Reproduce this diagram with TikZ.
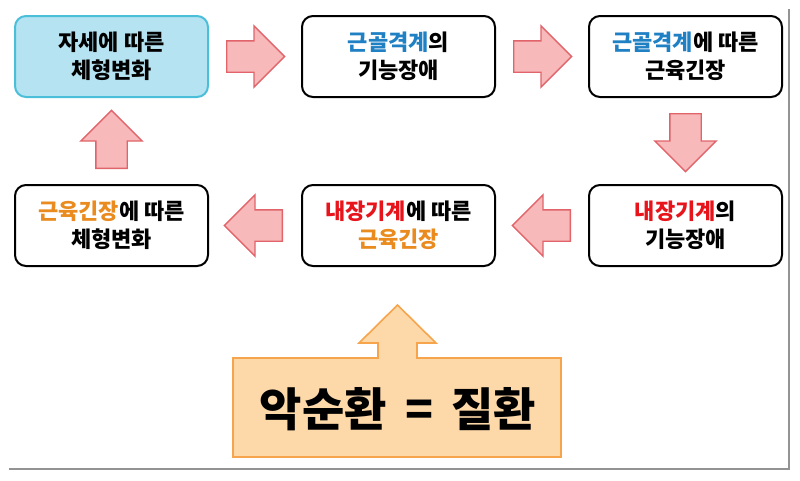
\documentclass[tikz,border=0pt]{standalone}
\usepackage{fontspec}
\setmainfont{Noto Sans CJK KR}
\usetikzlibrary{positioning,shapes.arrows,calc}
\definecolor{skyfill}{HTML}{B5E3F1}
\definecolor{skyline}{HTML}{4BBFDA}
\definecolor{arrowfill}{HTML}{F8B9BA}
\definecolor{arrowline}{HTML}{E0646A}
\definecolor{cyclefill}{HTML}{FDD8A8}
\definecolor{cycleline}{HTML}{F6A54C}
\definecolor{bonecol}{HTML}{1F80C4}
\definecolor{organcol}{HTML}{E8141C}
\definecolor{tensecol}{HTML}{E98B1E}
\newcommand\bonetxt[1]{\textcolor{bonecol}{#1}}
\newcommand\organtxt[1]{\textcolor{organcol}{#1}}
\newcommand\tensetxt[1]{\textcolor{tensecol}{#1}}
\tikzset{
  stage/.style={draw=black,line width=2pt,rounded corners=11pt,fill=white,
    minimum width=193pt,minimum height=81pt,align=center,
    font=\fontsize{22}{28}\selectfont\bfseries},
  flow/.style={single arrow,draw=arrowline,fill=arrowfill,line width=1.4pt,
    minimum width=60pt,minimum height=58pt,single arrow head extend=15pt,
    inner xsep=0pt,inner ysep=15pt,anchor=tail},
  vflow/.style={flow,inner xsep=15pt,inner ysep=0pt}
}
\begin{document}
\begin{tikzpicture}[x=1pt,y=-1pt]
\useasboundingbox (0,0) rectangle (800,480);
\draw[gray!85,line width=2.5pt] (9,469) -- (789,469) -- (789,9);%frame
\node[stage,fill=skyfill,draw=skyline] (b1) at (111.5,56.5) {자세에 따른\\체형변화};
\node[stage,right=92pt of b1] (b2) {\bonetxt{근골격계}의\\기능장애};
\node[stage,right=92pt of b2] (b3) {\bonetxt{근골격계}에 따른\\근육긴장};
\node[stage,below=86pt of b3] (b6) {\organtxt{내장기계}의\\기능장애};
\node[stage,left=92pt of b6] (b5) {\organtxt{내장기계}에 따른\\\tensetxt{근육긴장}};
\node[stage,left=92pt of b5] (b4) {\tensetxt{근육긴장}에 따른\\체형변화};
%arrows
\node[flow] (a12) at ([xshift=17pt]b1.east) {};
\node[flow] (a23) at ([xshift=17pt]b2.east) {};
\node[vflow,shape border rotate=270] (a36) at ([yshift=-15pt]b3.south) {};
\node[flow,shape border rotate=180] (a65) at ([xshift=-17pt]b6.west) {};
\node[flow,shape border rotate=180] (a54) at ([xshift=-18pt]b5.west) {};
\node[vflow,shape border rotate=90] (a41) at ([yshift=15pt]b4.north) {};
%vicious circle
\draw[draw=cycleline,fill=cyclefill,line width=1.6pt]
  (233,358) -- (378,358) -- (378,343) -- (359,343) -- (397.5,305) -- (436,343)
  -- (417,343) -- (417,358) -- (561,358) -- (561,457) -- (233,457) -- cycle;
\node[font=\fontsize{46}{50}\selectfont\bfseries] (vc) at (398,409) {악순환 \,=\, 질환};
\end{tikzpicture}
\end{document}
